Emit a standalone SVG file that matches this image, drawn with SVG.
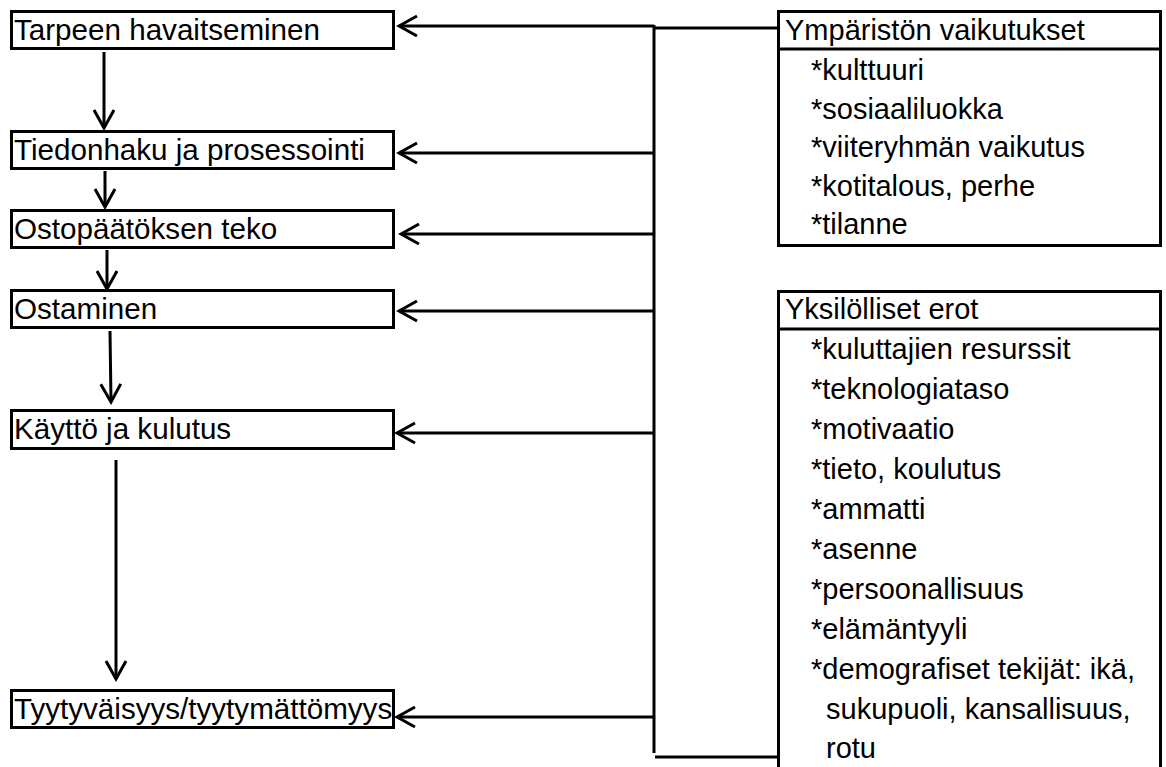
<svg xmlns="http://www.w3.org/2000/svg" width="1166" height="767" viewBox="0 0 1166 767">
<style>
.box{fill:#fff;stroke:#000;stroke-width:3}
.t{font-family:"Liberation Sans",Arial,sans-serif;font-size:29px;fill:#000}
.l{font-size:29.6px}
.c{stroke:#000;stroke-width:3;fill:none}
</style>
<defs>
<marker id="arr" viewBox="-20 -12 23 24" refX="0" refY="0" markerWidth="23" markerHeight="24" orient="auto" markerUnits="userSpaceOnUse">
<path d="M-18,-10 L0,0 L-18,10" fill="none" stroke="#000" stroke-width="3"/>
</marker>
</defs>
<rect width="1166" height="767" fill="#fff"/>
<g id="connectors">
<path class="c" d="M654,25 L654,753"/>
<path class="c" d="M654,28 L778,28"/>
<path class="c" d="M655,757 L778,757"/>
<path class="c" d="M654,26 L399,26" marker-end="url(#arr)"/>
<path class="c" d="M654,153 L399,153" marker-end="url(#arr)"/>
<path class="c" d="M654,234 L401,234" marker-end="url(#arr)"/>
<path class="c" d="M654,311 L399,311" marker-end="url(#arr)"/>
<path class="c" d="M654,433 L397,433" marker-end="url(#arr)"/>
<path class="c" d="M654,717 L397,717" marker-end="url(#arr)"/>
<path class="c" d="M104,52 L104,128" marker-end="url(#arr)"/>
<path class="c" d="M105,171 L105,207" marker-end="url(#arr)"/>
<path class="c" d="M107,250 L107,289" marker-end="url(#arr)"/>
<path class="c" d="M110,331 L111,402" marker-end="url(#arr)"/>
<path class="c" d="M116,460 L116,679" marker-end="url(#arr)"/>
</g>
<g id="n1"><rect class="box" x="11.5" y="11.5" width="382" height="37"/><text class="t l" x="14" y="40">Tarpeen havaitseminen</text></g>
<g id="n2"><rect class="box" x="11.5" y="131.5" width="382" height="37"/><text class="t l" x="14" y="160">Tiedonhaku ja prosessointi</text></g>
<g id="n3"><rect class="box" x="11.5" y="210.5" width="382" height="37"/><text class="t l" x="14" y="239">Ostopäätöksen teko</text></g>
<g id="n4"><rect class="box" x="11.5" y="290.5" width="382" height="37"/><text class="t l" x="14" y="319">Ostaminen</text></g>
<g id="n5"><rect class="box" x="11.5" y="410.5" width="382" height="38"/><text class="t l" x="14" y="439">Käyttö ja kulutus</text></g>
<g id="n6"><rect class="box" x="11.5" y="690.5" width="382" height="37"/><text class="t l" x="14" y="719">Tyytyväisyys/tyytymättömyys</text></g>
<g id="env">
<rect class="box" x="778.5" y="11.5" width="382" height="234"/>
<path class="c" d="M778,49 L1161,49"/>
<text class="t" x="785" y="40">Ympäristön vaikutukset</text>
<text class="t" x="811" y="80">*kulttuuri</text>
<text class="t" x="811" y="118.5">*sosiaaliluokka</text>
<text class="t" x="811" y="157">*viiteryhmän vaikutus</text>
<text class="t" x="811" y="195.5">*kotitalous, perhe</text>
<text class="t" x="811" y="234">*tilanne</text>
</g>
<g id="ind">
<rect class="box" x="778.5" y="291.5" width="382" height="500"/>
<path class="c" d="M778,329 L1161,329"/>
<text class="t" x="785" y="319">Yksilölliset erot</text>
<text class="t" x="811" y="359">*kuluttajien resurssit</text>
<text class="t" x="811" y="399">*teknologiataso</text>
<text class="t" x="811" y="439">*motivaatio</text>
<text class="t" x="811" y="479">*tieto, koulutus</text>
<text class="t" x="811" y="519">*ammatti</text>
<text class="t" x="811" y="559">*asenne</text>
<text class="t" x="811" y="599">*persoonallisuus</text>
<text class="t" x="811" y="639">*elämäntyyli</text>
<text class="t" x="811" y="679">*demografiset tekijät: ikä,</text>
<text class="t" x="826" y="719">sukupuoli, kansallisuus,</text>
<text class="t" x="826" y="758">rotu</text>
</g>
</svg>
